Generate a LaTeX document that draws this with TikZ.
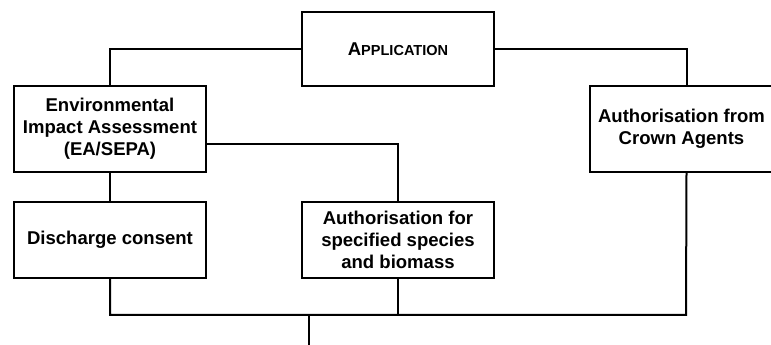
\documentclass[tikz,border=0pt]{standalone}
\usepackage{fontspec}
\setmainfont{Liberation Sans}
\usetikzlibrary{positioning}
\tikzset{
  box/.style = {
      draw,
      rectangle,
      line width=1.5pt,
      font=\fontsize{13.9}{16.5}\selectfont\bfseries,
      align=center,
      inner sep=0pt,
      minimum width=144pt
  },
  tall/.style = {
      box,
      minimum height=64.5pt
  },
  short/.style = {
      box,
      minimum height=57pt
  },
  wire/.style = {
      line width=1.5pt
  }
}

\begin{document}
\begin{tikzpicture}[x=0.75pt, y=-0.75pt]
        \useasboundingbox (0,0) rectangle (771,345);
        % Boxes
        \node[box, minimum height=55.5pt] (app) at (398,49) {A{\fontsize{10.9}{13}\selectfont PPLICATION}};
        \node[tall] (eia) at (110,129) {Environmental\\Impact Assessment\\(EA/SEPA)};
        \node[tall, minimum width=137.25pt] (crown) at (681.5,129) {Authorisation from\\Crown Agents};
        \node[short] (disch) at (110,240) {Discharge consent};
        \node[short] (species) at (398,240) {Authorisation for\\specified species\\and biomass};
        % Bus
        \coordinate (busL) at (110,315);
        \coordinate (busR) at (686,315);
        \coordinate (tap) at (309,315);
        \coordinate (out) at (309,347);
        % Edges
        \draw[wire] (app.west) -| (eia.north);
        \draw[wire] (app.east) -| ([xshift=3.75pt]crown.north);
        \draw[wire] ([yshift=-11.25pt]eia.east) -| (species.north);
        \draw[wire] (eia.south) -- (disch.north);
        \draw[wire] (disch.south) -- (busL) -- (busR) -- ([xshift=3.75pt]crown.south);
        \draw[wire] (species.south) -- (species.south |- busL);
        \draw[wire] (tap) -- (out);
    \end{tikzpicture}
\end{document}
